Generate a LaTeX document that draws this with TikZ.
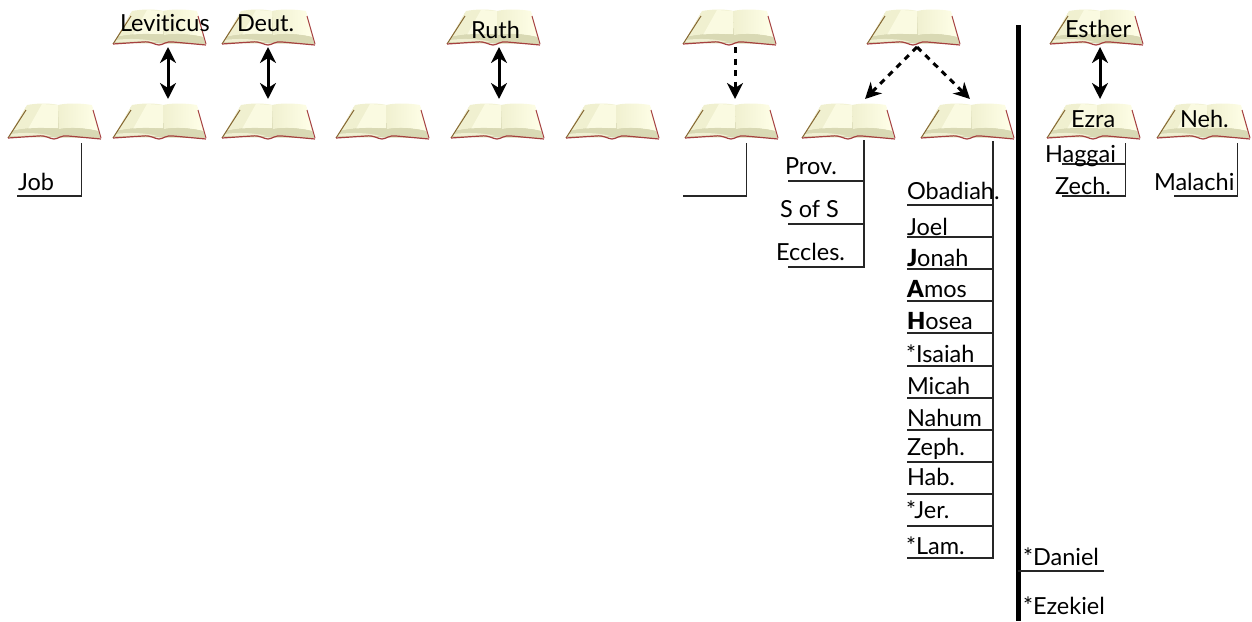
\documentclass[tikz,border=0pt]{standalone}
\usepackage{fontspec}
\setmainfont[Ligatures=NoCommon,BoldFont={Lato Black}]{Lato}
\usetikzlibrary{arrows.meta}
\definecolor{bkred}{HTML}{A5403F}
\definecolor{bkband}{HTML}{D9D9B4}
\definecolor{bkpage}{HTML}{FFFFE8}
\definecolor{bkdark}{HTML}{F0F0D0}
\newcommand{\bookat}[3]{%
 \begin{scope}[shift={(#2+1,#3+1)}]
  \fill[bkband] (1,34) -- (18,4) -- (84,4) -- (92,35) -- cycle;
  \fill[bkdark] (4,28) -- (19,2) .. controls (30,0) and (42,0) .. (50,2) -- (50,25) .. controls (35,24) and (15,25) .. (4,28) -- cycle;
  \fill[bkpage!70!bkdark] (20,26) -- (34,1) -- (50,2) -- (50,25) -- cycle;
  \shade[left color=bkdark,right color=bkpage] (50,2) .. controls (58,0) and (72,0) .. (84,2) -- (90,28) .. controls (78,25) and (62,24) .. (51,26) -- cycle;
  \fill[bkband] (2,33) -- (4,28) .. controls (15,25) and (35,24) .. (50,26) -- (52,26) .. controls (62,24) and (78,25) .. (90,28) -- (92,34) -- (60,32) -- (30,32) -- cycle;
  \fill[bkpage!60!bkband] (2,33) -- (3,31) .. controls (15,29) and (35,30) .. (44,33) -- (30,32.5) -- cycle;
  \draw[bkred!80!green,line width=1pt] (0,35) -- (18,7);
  \draw[bkred,line width=1pt] (85,7) -- (93,35);
  \draw[bkred,line width=1.2pt] (0,35) -- (30,33) .. controls (38,32) and (42,36) .. (46,36) .. controls (50,36) and (53,32) .. (60,33) -- (93,36);
 \end{scope}
 \node[bookbox] (#1) at (#2,#3) {};}
\tikzset{
 bookbox/.style={anchor=north west,inner sep=0pt,outer sep=0pt,minimum width=95pt,minimum height=38pt},
 lbl/.style={anchor=base west,inner sep=0pt,outer sep=0pt,font=\fontsize{23.5}{28}\selectfont,text=black},
 conn/.style={draw=black!85,line width=1.2pt},
 twoway/.style={line width=3pt,{Stealth[length=16pt,width=16pt,inset=5pt]}-{Stealth[length=16pt,width=16pt,inset=5pt]}},
 oneway/.style={line width=3pt,dash pattern=on 6pt off 5.5pt,-{Stealth[length=16pt,width=16pt,inset=5pt]}},
 heavy/.style={draw=black,line width=5pt}
}
\begin{document}
\begin{tikzpicture}[x=1pt,y=-1pt]
\useasboundingbox (0,0) rectangle (1252,621);
% upper books
\bookat{u1}{112}{8}
\bookat{u2}{221}{8}
\bookat{u3}{446}{8}
\bookat{u4}{682}{8}
\bookat{u5}{866}{8}
\bookat{u6}{1049}{8}
% lower books
\bookat{b1}{7}{102}
\bookat{b2}{112}{102}
\bookat{b3}{221}{102}
\bookat{b4}{335}{102}
\bookat{b5}{450}{102}
\bookat{b6}{565}{102}
\bookat{b7}{684}{102}
\bookat{b8}{801}{102}
\bookat{b9}{920}{102}
\bookat{b10}{1046}{102}
\bookat{b11}{1156}{102}
% arrows
\draw[twoway] ([shift={(8.5,1)}]u1.south) -- ([shift={(8.5,-3)}]b2.north);
\draw[twoway] ([shift={(-.5,1)}]u2.south) -- ([shift={(-.5,-3)}]b3.north);
\draw[twoway] ([shift={(5.5,1)}]u3.south) -- ([shift={(1.5,-3)}]b5.north);
\draw[oneway] ([shift={(5.5,1)}]u4.south) -- ([shift={(3.5,-3)}]b7.north);
\draw[oneway] ([shift={(3.5,1)}]u5.south) -- ([shift={(16.5,-3)}]b8.north);
\draw[oneway] ([shift={(3.5,1)}]u5.south) -- ([shift={(2.5,-3)}]b9.north);
\draw[twoway] ([shift={(3.5,1)}]u6.south) -- ([shift={(6.5,-3)}]b10.north);
% heavy divider
\coordinate (hv1) at (1018,25);
\coordinate (hv2) at (1018,621);
\draw[heavy] (hv1) -- (hv2);
% connector corners
\coordinate (cJob) at (17,196);
\coordinate (cBlank) at (683,196);
\coordinate (cZech) at (1062,196);
\coordinate (cMal) at (1174,196);
\coordinate (cEcc) at (788,267);
\coordinate (cLam) at (907,558);
\draw[conn] ([shift={(27,3)}]b1.south) |- (cJob);
\draw[conn] ([shift={(15,3)}]b7.south) |- (cBlank);
\draw[conn] ([shift={(15.5,0)}]b8.south) |- (cEcc);
\draw[conn] ([shift={(25.5,1)}]b9.south) |- (cLam);
\draw[conn] ([shift={(32,3)}]b10.south) |- (cZech);
\draw[conn] ([shift={(34,3)}]b11.south) |- (cMal);
% side branches
\foreach \n/\y in {a/181,b/224}{
 \coordinate (p\n) at (788,\y);
 \draw[conn] (p\n) -- ++(76,0);
}
\foreach \y in {205,237,269,301,333,366,398,430,462,494,526}{
 \coordinate (m\y) at (907,\y);
 \draw[conn] (m\y) -- ++(86,0);
}
\coordinate (hg) at (1062,164);
\draw[conn] (hg) -- ++(64,0);
\coordinate (dan) at (1018,571);
\draw[conn,line width=1.4pt] (dan) -- ++(86,0);
% labels on books
\node[lbl] (tLev) at (120,31) {Leviticus};
\node[lbl] (tDeu) at (237,31) {Deut.};
\node[lbl] (tRut) at (471,38) {Ruth};
\node[lbl] (tEst) at (1065,37) {Esther};
\node[lbl] (tEzr) at (1071,127) {Ezra};
\node[lbl] (tNeh) at (1180,127) {Neh.};
% labels below
\node[lbl] (tJob) at (18,190) {Job};
\node[lbl] (tPro) at (785,174) {Prov.};
\node[lbl] (tSos) at (780,217) {S of S};
\node[lbl] (tEcc) at (776,260) {Eccles.};
\node[lbl] (tOba) at (907,199) {Obadiah.};
\node[lbl] (tJoe) at (907,235) {Joel};
\node[lbl] (tJon) at (907,266) {\textbf{J}onah};
\node[lbl] (tAmo) at (907,297) {\textbf{A}mos};
\node[lbl] (tHos) at (907,329) {\textbf{H}osea};
\node[lbl] (tIsa) at (906,362) {*Isaiah};
\node[lbl] (tMic) at (907,394) {Micah};
\node[lbl] (tNah) at (907,426) {Nahum};
\node[lbl] (tZep) at (907,455) {Zeph.};
\node[lbl] (tHab) at (907,485) {Hab.};
\node[lbl] (tJer) at (906,518) {*Jer.};
\node[lbl] (tLam) at (906,554) {*Lam.};
\node[lbl] (tDan) at (1023,565) {*Daniel};
\node[lbl] (tEze) at (1023,614) {*Ezekiel};
\node[lbl] (tHag) at (1045,162) {Haggai};
\node[lbl] (tZec) at (1055,194) {Zech.};
\node[lbl] (tMal) at (1154,190) {Malachi};
\end{tikzpicture}
\end{document}
